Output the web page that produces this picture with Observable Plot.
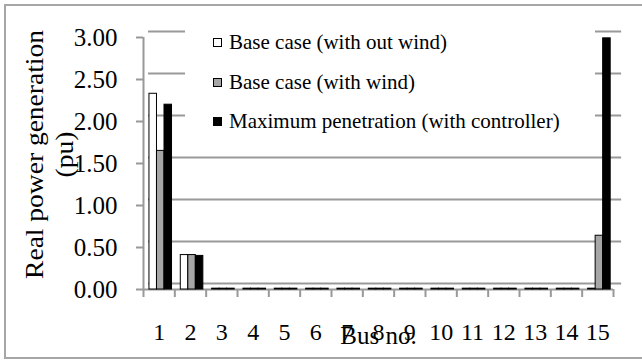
<!DOCTYPE html>
<html><head><meta charset="utf-8">
<script src="https://cdn.jsdelivr.net/npm/d3@7"></script>
<script src="https://cdn.jsdelivr.net/npm/@observablehq/plot@0.6"></script>
<style>
body{margin:0;background:#fff;}
#wrap{position:relative;width:642px;height:360px;overflow:hidden;font-family:"Liberation Serif","Times New Roman",serif;}
#border{position:absolute;left:4px;top:4px;width:660px;height:355px;border:2px solid #a6a6a6;box-sizing:border-box;pointer-events:none}
#legend{position:absolute;left:185px;top:22px;width:410px;height:128px;background:#fff;}
.item{position:absolute;left:28px;height:24px;display:flex;align-items:center;font-size:21px;color:#000;white-space:nowrap;line-height:24px}
.sw{width:7px;height:7px;border:1px solid #000;margin-right:7px;flex:none}
</style></head>
<body>
<div id="wrap"><div id="chart"></div><div id="legend"></div><div id="border"></div></div>
<script>
const buses = [1,2,3,4,5,6,7,8,9,10,11,12,13,14,15];
const seriesNames = ["Base case (with out wind)", "Base case (with wind)", "Maximum penetration (with controller)"];
const baseNoWind = [2.33,0.41,0.01,0.01,0.01,0.01,0.01,0.01,0.01,0.01,0.01,0.01,0.01,0.01,0.01];
const baseWind   = [1.65,0.41,0.01,0.01,0.01,0.01,0.01,0.01,0.01,0.01,0.01,0.01,0.01,0.01,0.64];
const maxPen     = [2.20,0.40,0.01,0.01,0.01,0.01,0.01,0.01,0.01,0.01,0.01,0.01,0.01,0.01,2.99];
const yTicks = [0,0.5,1,1.5,2,2.5,3];
const yTitle = "Real power generation\n(pu)";
const xTitle = "Bus no.";

const seriesValues = [baseNoWind, baseWind, maxPen];
const fills = ["#ffffff", "#a6a6a6", "#000000"];
const offsets = [[-0.31,-0.07],[-0.07,0.17],[0.17,0.41]];
const boundaries = [0, ...buses].map(b => b + 0.5);
const font = "Liberation Serif, Times New Roman, serif";
const grid = "#999999";

const barMarks = seriesValues.map((vals, s) => Plot.rect(
  buses.map((b, i) => ({bus: b, value: vals[i]})),
  {x1: d => d.bus + offsets[s][0], x2: d => d.bus + offsets[s][1], y1: 0, y2: "value",
   fill: fills[s], stroke: "#000", strokeWidth: 1}
));

const chart = Plot.plot({
  width: 642, height: 360,
  marginLeft: 143, marginRight: 29, marginTop: 37, marginBottom: 71,
  style: {fontFamily: font, background: "transparent", color: "#000"},
  x: {type: "linear", domain: [0.5, 15.5]},
  y: {domain: [0, 3]},
  marks: [
    Plot.ruleY(yTicks, {x1: 0.5, x2: 15.6, dx: 5, dy: -6, stroke: grid, strokeWidth: 2}),
    Plot.ruleY([0], {stroke: grid, strokeWidth: 2}),
    Plot.ruleX([0.5], {y1: 0, y2: 3, stroke: grid, strokeWidth: 2}),
    Plot.axisY({ticks: yTicks, tickFormat: d3.format(".2f"), tickSize: 7, tickPadding: 19,
      fontSize: 25, stroke: grid, strokeWidth: 2, fill: "#000", label: null}),
    Plot.axisX({ticks: boundaries, tickSize: 8, tickFormat: () => "", stroke: grid, strokeWidth: 2, label: null}),
    Plot.axisX({ticks: buses, tickSize: 0, tickPadding: 33, tickFormat: d => String(d), fontSize: 24, fill: "#000", label: null}),
    ...barMarks,
    Plot.text([yTitle], {text: d => d, frameAnchor: "left", textAnchor: "middle", lineAnchor: "middle", rotate: -90, dx: -95, dy: -9, lineHeight: 1.2, fontSize: 25, fill: "#000"}),
    Plot.text([xTitle], {text: d => d, frameAnchor: "bottom", lineAnchor: "bottom", dy: 54, fontSize: 25, fill: "#000"})
  ]
});
// the reference's rotated title is drawn slightly stretched along its length
chart.querySelectorAll("text").forEach(t => {
  if (t.textContent.startsWith("Real power")) {
    t.setAttribute("transform", (t.getAttribute("transform") || "") + " scale(1.1,1)");
  }
});
document.getElementById("chart").appendChild(chart);

const legend = document.getElementById("legend");
const rowTops = [8, 48, 87];
seriesNames.forEach((name, i) => {
  const item = document.createElement("div");
  item.className = "item";
  item.style.top = rowTops[i] + "px";
  const sw = document.createElement("span");
  sw.className = "sw";
  sw.style.background = fills[i];
  const t = document.createElement("span");
  t.textContent = name;
  item.appendChild(sw); item.appendChild(t);
  legend.appendChild(item);
});
</script>
</body></html>
